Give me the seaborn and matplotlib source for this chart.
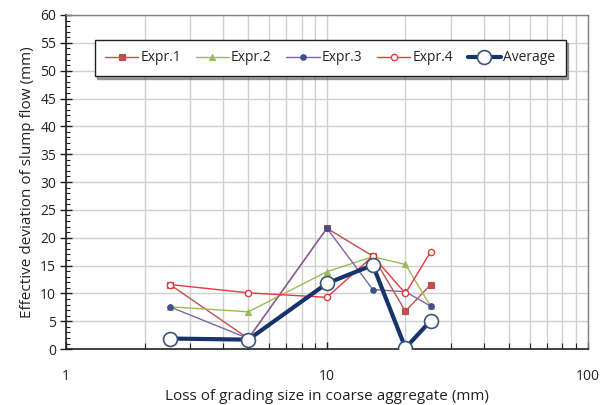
import matplotlib
matplotlib.use("Agg")
import matplotlib.pyplot as plt
from matplotlib.ticker import FixedLocator, NullFormatter, MultipleLocator
import seaborn as sns
import pandas as pd

# Loss of grading size (mm) and effective deviation of slump flow (mm)
sizes = [2.5, 5, 10, 15, 20, 25]
expr1 = [11.6, 1.9, 21.7, 16.7, 6.8, 11.6]
expr2 = [7.6, 6.7, 13.9, 16.6, 15.2, 7.7]
expr3 = [7.6, 1.9, 21.7, 10.7, 10.3, 7.7]
expr4 = [11.6, 10.1, 9.3, 16.7, 10.0, 17.5]
average = [1.9, 1.7, 11.8, 15.1, 0.2, 5.1]
series_names = ["Expr.1", "Expr.2", "Expr.3", "Expr.4", "Average"]

sns.set_theme(style="white")
plt.rcParams["font.family"] = ["Open Sans", "DejaVu Sans"]

fig = plt.figure(figsize=(6.11, 4.05), dpi=100)
ax = fig.add_axes([0.108, 0.138, 0.854, 0.825])
ax.set_xscale("log")

styles = {
    "Expr.1": dict(color="#C0504D", marker="s", markersize=4.5, mfc="#C0504D", mec="#C0504D", lw=1.0),
    "Expr.2": dict(color="#9BBB59", marker="^", markersize=4.5, mfc="#9BBB59", mec="#9BBB59", lw=1.0),
    "Expr.3": dict(color="#8064A2", marker="o", markersize=4, mfc="#3F4F8F", mec="#3F4F8F", lw=1.0),
    "Expr.4": dict(color="#E8383B", marker="o", markersize=4.5, mfc="white", mec="#E8383B", mew=1.0, lw=1.0),
    "Average": dict(color="#17336B", marker="o", markersize=10, mfc="white", mec="#3B5578", mew=1.2, lw=3.0),
}
values = [expr1, expr2, expr3, expr4, average]

for name, vals in zip(series_names, values):
    df = pd.DataFrame({"size": sizes, "dev": vals})
    st = styles[name]
    sns.lineplot(data=df, x="size", y="dev", ax=ax, color=st["color"], lw=st["lw"],
                 marker=st["marker"], markersize=st["markersize"],
                 markerfacecolor=st["mfc"], markeredgecolor=st["mec"],
                 markeredgewidth=st.get("mew", 0.8), label=name, sort=False,
                 zorder=5 if name == "Average" else 3)

ax.set_xlim(1, 100)
ax.set_ylim(0, 60)
ax.yaxis.set_major_locator(MultipleLocator(5))
ax.yaxis.set_minor_locator(MultipleLocator(1))
minor_x = [m * d for d in (1, 10) for m in range(2, 10)]
ax.xaxis.set_minor_locator(FixedLocator(minor_x))
ax.xaxis.set_minor_formatter(NullFormatter())
ax.set_xticks([1, 10, 100])
ax.set_xticklabels(["1", "10", "100"])

ax.grid(True, which="major", axis="y", color="#D0D0D0", lw=1.0)
ax.grid(True, which="both", axis="x", color="#D0D0D0", lw=1.0)
ax.set_axisbelow(True)

for side in ("left", "bottom"):
    ax.spines[side].set_color("#222222")
    ax.spines[side].set_linewidth(1.2)
for side in ("top", "right"):
    ax.spines[side].set_color("#808080")
    ax.spines[side].set_linewidth(1.0)

ax.tick_params(axis="y", which="major", direction="inout", length=8, width=1, colors="#222222",
               labelsize=10, labelcolor="#222222", left=True, pad=3)
ax.tick_params(axis="y", which="minor", direction="in", length=3, width=0.8, colors="#222222", left=True)
ax.tick_params(axis="x", which="major", direction="in", length=5, width=1, colors="#222222",
               labelsize=10, labelcolor="#222222", bottom=True, pad=14)
ax.tick_params(axis="x", which="minor", direction="in", length=4, width=0.8, colors="#222222", bottom=True)

ax.set_xlabel("Loss of grading size in coarse aggregate (mm)", fontsize=11, color="#222222", labelpad=4)
ax.set_ylabel("Effective deviation of slump flow (mm)", fontsize=11, color="#222222", labelpad=4)

leg = ax.legend(loc="upper center", bbox_to_anchor=(0.506, 0.925), ncol=5, frameon=True,
                fancybox=False, shadow=True, fontsize=10, handlelength=2.4,
                columnspacing=1.05, handletextpad=0.15, borderpad=0.75, borderaxespad=0)
leg.get_frame().set_edgecolor("#222222")
leg.get_frame().set_linewidth(1.0)

fig.savefig("out.png", dpi=100)
